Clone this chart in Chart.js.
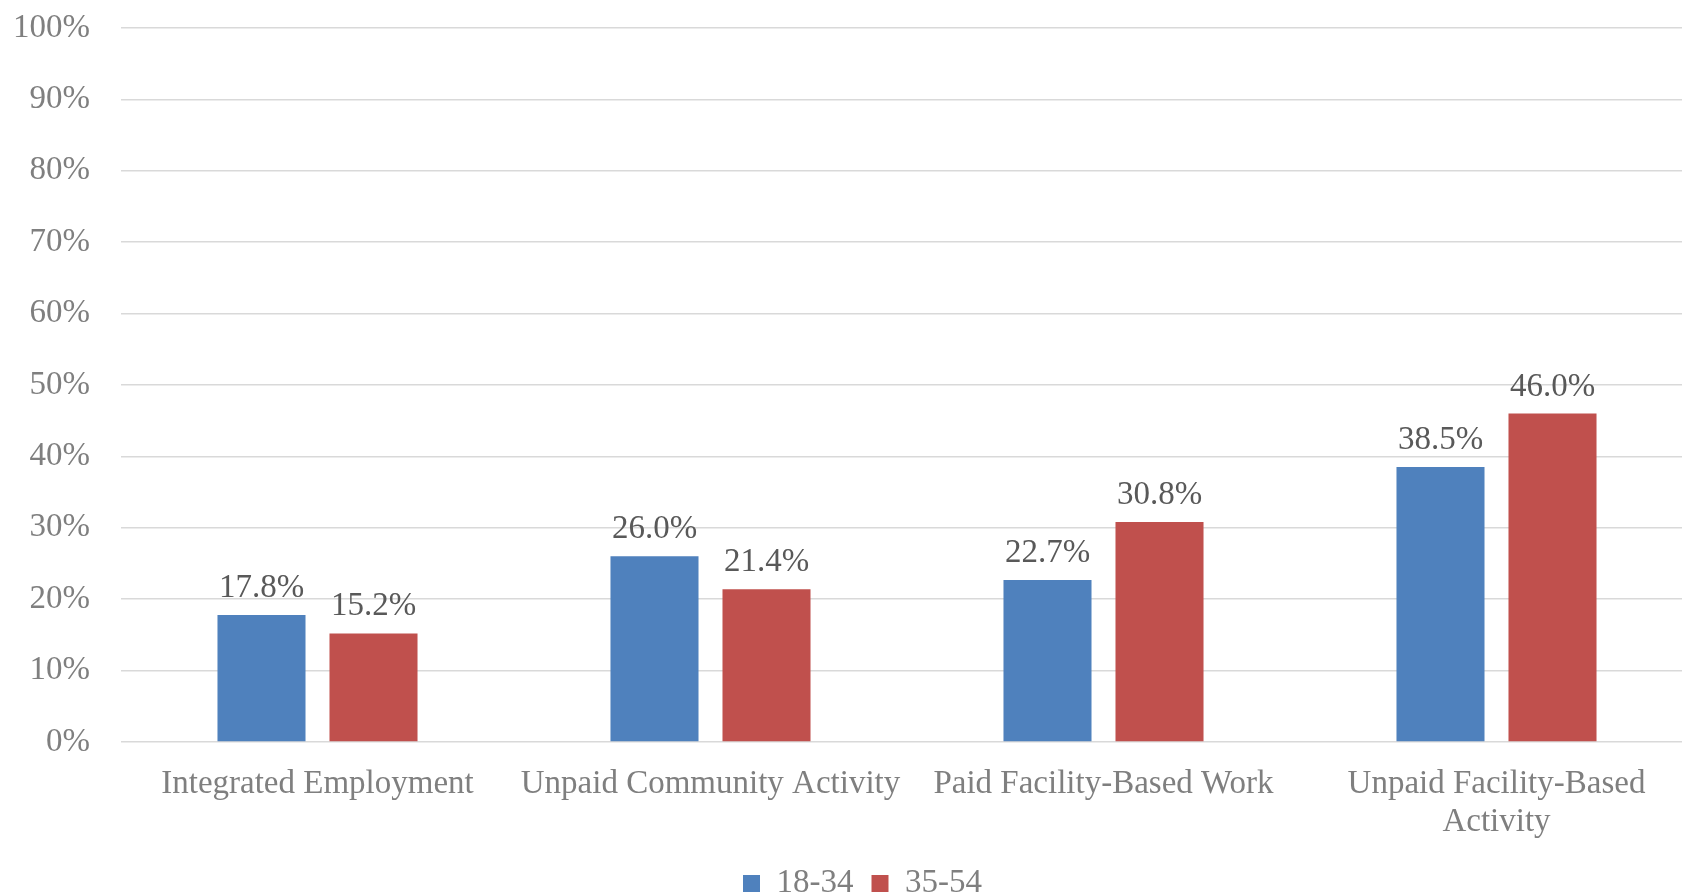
<!DOCTYPE html>
<html>
<head>
<meta charset="utf-8">
<script src="https://cdn.jsdelivr.net/npm/chart.js@4/dist/chart.umd.min.js"></script>
<style>
  html, body { margin: 0; padding: 0; background: #ffffff; overflow: hidden; }
  #wrap { width: 1682px; height: 893px; overflow: hidden; }
</style>
</head>
<body>
<div id="wrap"><canvas id="c" width="1693" height="893"></canvas></div>
<script>
const categories = [
  'Integrated Employment',
  'Unpaid Community Activity',
  'Paid Facility-Based Work',
  ['Unpaid Facility-Based', 'Activity']
];
const seriesNames = ['18-34', '35-54'];
const values1834 = [17.8, 26.0, 22.7, 38.5];
const values3554 = [15.2, 21.4, 30.8, 46.0];
const yTicks = [0, 10, 20, 30, 40, 50, 60, 70, 80, 90, 100];

const FONT = "'Liberation Serif', 'Times New Roman', serif";

const dataLabels = {
  id: 'dataLabels',
  afterDatasetsDraw(chart) {
    const ctx = chart.ctx;
    ctx.save();
    ctx.font = '33px ' + FONT;
    ctx.fillStyle = '#595959';
    ctx.textAlign = 'center';
    ctx.textBaseline = 'alphabetic';
    chart.data.datasets.forEach((ds, di) => {
      const meta = chart.getDatasetMeta(di);
      meta.data.forEach((el, i) => {
        ctx.fillText(ds.data[i].toFixed(1) + '%', el.x, el.y - 18);
      });
    });
    ctx.restore();
  }
};

const legendShift = {
  id: 'legendShift',
  afterLayout(chart) {
    if (chart.legend) { chart.legend.left += 16; chart.legend.right += 16; }
  }
};

new Chart(document.getElementById('c'), {
  type: 'bar',
  data: {
    labels: categories,
    datasets: [
      { label: seriesNames[0], data: values1834, backgroundColor: '#4F81BD',
        categoryPercentage: 0.570, barPercentage: 0.786 },
      { label: seriesNames[1], data: values3554, backgroundColor: '#C0504D',
        categoryPercentage: 0.570, barPercentage: 0.786 }
    ]
  },
  options: {
    responsive: false,
    animation: false,
    devicePixelRatio: 1,
    layout: { padding: { left: 0, right: 0, top: 28, bottom: -17 } },
    scales: {
      x: {
        grid: { display: false },
        border: { display: false },
        afterFit(scale) { scale.height = 107; },
        ticks: {
          color: '#7f7f7f',
          font: { family: FONT, size: 33, lineHeight: 1.14 },
          padding: 16,
          maxRotation: 0,
          autoSkip: false
        }
      },
      y: {
        min: 0,
        max: 100,
        afterBuildTicks(scale) { scale.ticks = yTicks.map(v => ({ value: v })); },
        afterFit(scale) { scale.width = 121; scale.paddingTop = 0; scale.paddingBottom = 0; },
        grid: { color: '#d9d9d9', lineWidth: 1.5, drawTicks: false },
        border: { display: false },
        ticks: {
          color: '#7f7f7f',
          font: { family: FONT, size: 33 },
          padding: 31,
          callback: v => v + '%'
        }
      }
    },
    plugins: {
      legend: {
        position: 'bottom',
        labels: {
          color: '#7f7f7f',
          font: { family: FONT, size: 33 },
          boxWidth: 17,
          boxHeight: 17,
          padding: 18
        }
      },
      tooltip: { enabled: false }
    }
  },
  plugins: [dataLabels, legendShift]
});
</script>
</body>
</html>
